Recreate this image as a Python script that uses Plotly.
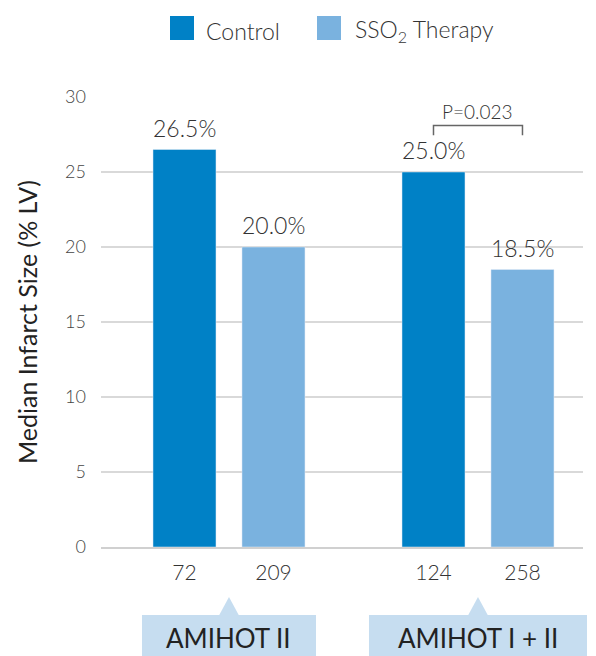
import plotly.graph_objects as go

groups = ["AMIHOT II", "AMIHOT I + II"]
series_names = ["Control", "SSO<sub>2</sub> Therapy"]
control_vals = [26.5, 25.0]
therapy_vals = [20.0, 18.5]
control_n = ["72", "124"]
therapy_n = ["209", "258"]
p_label = "P=0.023"
y_ticks = [0, 5, 10, 15, 20, 25, 30]

C_CTRL = "#0081c6"
C_THER = "#7ab2df"
C_BOX = "#c6ddf0"
TXT = "#333333"
FONT = "Lato, sans-serif"
WGT = 300

# page body has an 8px margin; size the figure so the viewport matches
OFFS = 8
W, H = 596 - OFFS, 656 - OFFS
PL, PR, PT, PB = 101, 583, 97, 547          # plot area in viewport px
L, T = PL - OFFS, PT - OFFS
R = W - (PR - OFFS)
B = H - (PB - OFFS)
PW, PH = PR - PL, PB - PT

# category layout (positions, not data)
OFF = 0.1787
BW = 0.253
XMIN = -0.514
XMAX = XMIN + PW / 249.0

gx = list(range(len(groups)))
x_ctrl = [g - OFF for g in gx]
x_ther = [g + OFF for g in gx]

def xp(x):
    return (x - XMIN) / (XMAX - XMIN)

def pxp(px):
    return (px - PL) / PW

def pyp(py):
    return (PB - py) / PH

def f(size, color=TXT, weight=WGT):
    return dict(size=size, color=color, family=FONT, weight=weight)

fig = go.Figure()
fig.add_bar(x=x_ctrl, y=control_vals, width=BW, marker_color=C_CTRL,
            name=series_names[0], showlegend=False)
fig.add_bar(x=x_ther, y=therapy_vals, width=BW, marker_color=C_THER,
            name=series_names[1], showlegend=False)

shapes = []
annotations = []

# value labels above bars
for xs, vs in [(x_ctrl, control_vals), (x_ther, therapy_vals)]:
    for x, v in zip(xs, vs):
        annotations.append(dict(x=x, y=v, xref="x", yref="y", text=f"{v:.1f}%",
                                showarrow=False, xanchor="center", yanchor="bottom",
                                yshift=6, font=f(23)))

# p-value bracket on second group
yb, yl = 28.1, 27.45
shapes.append(dict(type="path", xref="x", yref="y",
                   path=f"M {x_ctrl[1]} {yl} L {x_ctrl[1]} {yb} L {x_ther[1]} {yb} L {x_ther[1]} {yl}",
                   line=dict(color="#666666", width=1.5)))
annotations.append(dict(x=gx[1], y=yb, xref="x", yref="y", text=p_label, showarrow=False,
                        xanchor="center", yanchor="bottom", yshift=1, font=f(19)))

# group label boxes with pointer
box_w = [174, 218]
for g, name, bw in zip(gx, groups, box_w):
    cx = xp(g)
    hw = bw / 2 / PW
    shapes.append(dict(type="rect", xref="paper", yref="paper",
                       x0=cx - hw, x1=cx + hw, y0=pyp(660), y1=pyp(615),
                       fillcolor=C_BOX, line=dict(width=0), layer="above"))
    tw = 10 / PW
    shapes.append(dict(type="path", xref="paper", yref="paper",
                       path=f"M {cx - tw} {pyp(615.5)} L {cx} {pyp(597)} L {cx + tw} {pyp(615.5)} Z",
                       fillcolor=C_BOX, line=dict(width=0), layer="above"))
    annotations.append(dict(x=cx, y=pyp(638), xref="paper", yref="paper", text=name,
                            showarrow=False, xanchor="center", yanchor="middle",
                            font=f(26, "#222222", 400)))

# legend
for (x0, x1, tx), name, col in zip([(170, 194, 204), (317, 341, 353)], series_names, [C_CTRL, C_THER]):
    shapes.append(dict(type="rect", xref="paper", yref="paper",
                       x0=pxp(x0), x1=pxp(x1), y0=pyp(40), y1=pyp(16),
                       fillcolor=col, line=dict(width=0)))
    annotations.append(dict(x=pxp(tx), y=pyp(31), xref="paper", yref="paper", text=name,
                            showarrow=False, xanchor="left", yanchor="middle", font=f(23)))

fig.update_layout(
    width=W, height=H,
    margin=dict(l=L, r=R, t=T, b=B, pad=0, autoexpand=False),
    plot_bgcolor="white", paper_bgcolor="white",
    barmode="overlay",
    shapes=shapes, annotations=annotations,
    font=dict(family=FONT, color=TXT),
    xaxis=dict(range=[XMIN, XMAX], tickvals=x_ctrl + x_ther, ticktext=control_n + therapy_n,
               automargin=False,
               showgrid=False, zeroline=False, showline=True, linecolor="#d0d0d0", linewidth=1.5,
               ticks="", tickfont=f(21), ticklabelstandoff=6),
    yaxis=dict(range=[0, 30], tickvals=y_ticks, showgrid=True, gridcolor="#d9d9d9", gridwidth=1.5,
               automargin=False,
               zeroline=False, showline=False, ticks="", ticklabelstandoff=14,
               tickfont=f(18, "#444444"),
               title=dict(text="Median Infarct Size (% LV)", standoff=20,
                          font=f(25, "#222222", 400))),
)

fig.write_html("out.html")
